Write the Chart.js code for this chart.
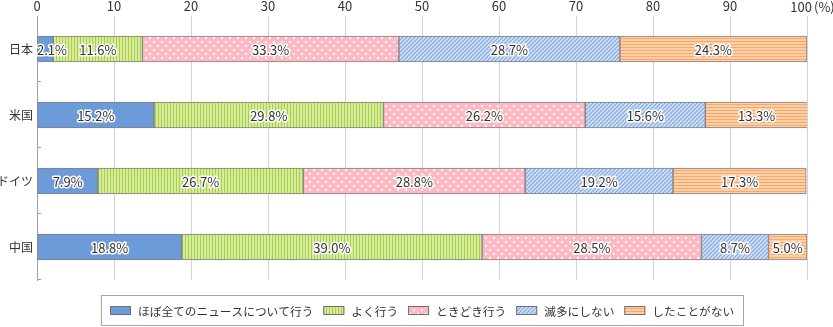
<!DOCTYPE html>
<html>
<head>
<meta charset="utf-8">
<script src="https://cdn.jsdelivr.net/npm/chart.js@4"></script>
<style>
  html, body { margin: 0; padding: 0; background: #fff; }
  #wrap { width: 833px; height: 327px; }
</style>
</head>
<body>
<div id="wrap"><canvas id="chart" width="833" height="327"></canvas></div>
<script>
const countries = ["日本", "米国", "ドイツ", "中国"];
const seriesNames = [
  "ほぼ全てのニュースについて行う",
  "よく行う",
  "ときどき行う",
  "滅多にしない",
  "したことがない",
];
const allNews = [2.1, 15.2, 7.9, 18.8];
const often = [11.6, 29.8, 26.7, 39.0];
const sometimes = [33.3, 26.2, 28.8, 28.5];
const rarely = [28.7, 15.6, 19.2, 8.7];
const never = [24.3, 13.3, 17.3, 5.0];

const FONT = '"Noto Sans CJK JP", "Noto Sans", sans-serif';
const canvas = document.getElementById("chart");
const ctx = canvas.getContext("2d");

// small tiles used as bar fills
function tile(w, h, draw) {
  const c = document.createElement("canvas");
  c.width = w;
  c.height = h;
  draw(c.getContext("2d"), w, h);
  return ctx.createPattern(c, "repeat");
}

const solidBlue = "#6b9bd9";

const greenStripes = tile(3, 3, (g) => {
  g.fillStyle = "#d6ec9c";
  g.fillRect(0, 0, 3, 3);
  g.fillStyle = "#a9d04a";
  g.fillRect(2, 0, 1, 3);
});

const pinkDots = tile(8, 8, (g) => {
  g.fillStyle = "#ffb8c2";
  g.fillRect(0, 0, 8, 8);
  g.fillStyle = "#ffffff";
  g.fillRect(1, 1, 2, 2);
  g.fillRect(5, 5, 2, 2);
});

const blueHatch = tile(4, 4, (g) => {
  g.fillStyle = "#d3e1f6";
  g.fillRect(0, 0, 4, 4);
  g.strokeStyle = "#82a7e0";
  g.lineWidth = 1.2;
  g.beginPath();
  g.moveTo(0, 4);
  g.lineTo(4, 0);
  g.moveTo(-1, 1);
  g.lineTo(1, -1);
  g.moveTo(3, 5);
  g.lineTo(5, 3);
  g.stroke();
});

const orangeLines = tile(3, 3, (g) => {
  g.fillStyle = "#ffd0a8";
  g.fillRect(0, 0, 3, 3);
  g.fillStyle = "#f7a86c";
  g.fillRect(0, 2, 3, 1);
});

const fills = [solidBlue, greenStripes, pinkDots, blueHatch, orangeLines];
const values = [allNews, often, sometimes, rarely, never];

const datasets = seriesNames.map((name, i) => ({
  label: name,
  data: values[i],
  backgroundColor: fills[i],
  borderColor: "#808080",
  borderWidth: 1,
  borderSkipped: false,
  barThickness: 26,
}));

// percentage text in the middle of every segment, white halo around it
const segmentLabels = {
  id: "segmentLabels",
  afterDatasetsDraw(chart) {
    const c = chart.ctx;
    const area = chart.chartArea;
    c.save();
    c.font = "13px " + FONT;
    c.textBaseline = "middle";
    c.textAlign = "left";
    c.lineJoin = "round";
    chart.data.datasets.forEach((ds, di) => {
      chart.getDatasetMeta(di).data.forEach((bar, j) => {
        const text = ds.data[j].toFixed(1) + "%";
        const w = c.measureText(text).width;
        let x = (bar.x + bar.base) / 2 - w / 2;
        if (x < area.left) x = area.left;
        c.strokeStyle = "#ffffff";
        c.lineWidth = 3;
        c.strokeText(text, x, bar.y + 1);
        c.fillStyle = "#333333";
        c.fillText(text, x, bar.y + 1);
      });
    });
    c.restore();
  },
};

// short ticks between categories, "100(%)" at the end of the axis, boxed legend
const decorations = {
  id: "decorations",
  afterDraw(chart) {
    const c = chart.ctx;
    const area = chart.chartArea;
    const xScale = chart.scales.x;
    c.save();

    c.strokeStyle = "#a0a0a0";
    c.lineWidth = 1;
    const step = (area.bottom - area.top) / countries.length;
    for (let k = 1; k <= countries.length; k++) {
      const y = Math.round(area.top + k * step) - 0.5;
      c.beginPath();
      c.moveTo(area.left, y);
      c.lineTo(area.left + 4, y);
      c.stroke();
    }

    c.font = "13px " + FONT;
    c.fillStyle = "#333333";
    c.textBaseline = "middle";
    const xEnd = xScale.getPixelForValue(xScale.max);
    c.textAlign = "right";
    c.fillText(String(xScale.max), xEnd + 5, 7);
    c.textAlign = "left";
    c.fillText("(%)", xEnd + 7, 7);

    // legend
    c.font = "11.7px " + FONT;
    const swW = 21, swH = 9, gapText = 7, gapItem = 10;
    const widths = seriesNames.map((n) => c.measureText(n).width);
    let total = 0;
    widths.forEach((w, i) => {
      total += swW + gapText + w + (i < widths.length - 1 ? gapItem : 0);
    });
    const cx = (area.left + area.right) / 2;
    const boxL = Math.round(cx - total / 2 - 9) + 0.5;
    const boxR = Math.round(cx + total / 2 + 9) + 0.5;
    const boxT = 295.5, boxB = 325.5;
    c.strokeStyle = "#a6a6a6";
    c.strokeRect(boxL, boxT, boxR - boxL, boxB - boxT);

    let x = Math.round(cx - total / 2);
    const midY = (boxT + boxB) / 2;
    seriesNames.forEach((name, i) => {
      c.fillStyle = fills[i];
      c.fillRect(x, Math.round(midY - swH / 2), swW, swH);
      c.strokeStyle = "#707070";
      c.strokeRect(x + 0.5, Math.round(midY - swH / 2) + 0.5, swW - 1, swH - 1);
      c.fillStyle = "#333333";
      c.fillText(name, x + swW + gapText, midY + 1);
      x += swW + gapText + widths[i] + gapItem;
    });
    c.restore();
  },
};

const config = {
  type: "bar",
  data: { labels: countries, datasets: datasets },
  options: {
    indexAxis: "y",
    responsive: false,
    animation: false,
    devicePixelRatio: 1,
    layout: { padding: { top: 0, right: 26, bottom: 47, left: 0 } },
    plugins: {
      legend: { display: false },
      tooltip: { enabled: false },
    },
    scales: {
      x: {
        position: "top",
        stacked: true,
        min: 0,
        max: 100,
        ticks: {
          stepSize: 10,
          color: "#333333",
          padding: 2,
          font: { family: FONT, size: 13 },
          callback: (v) => (v === 100 ? "" : v),
        },
        grid: { color: "#d4d4d4", drawTicks: false },
        border: { display: false },
        afterFit(scale) {
          scale.height = 16;
        },
      },
      y: {
        stacked: true,
        ticks: {
          color: "#333333",
          padding: 4,
          font: { family: FONT, size: 12 },
        },
        grid: { drawOnChartArea: false, drawTicks: false },
        border: { color: "#a0a0a0" },
        afterFit(scale) {
          scale.width = 37;
        },
      },
    },
  },
  plugins: [segmentLabels, decorations],
};

const chart = new Chart(canvas, config);
</script>
</body>
</html>
